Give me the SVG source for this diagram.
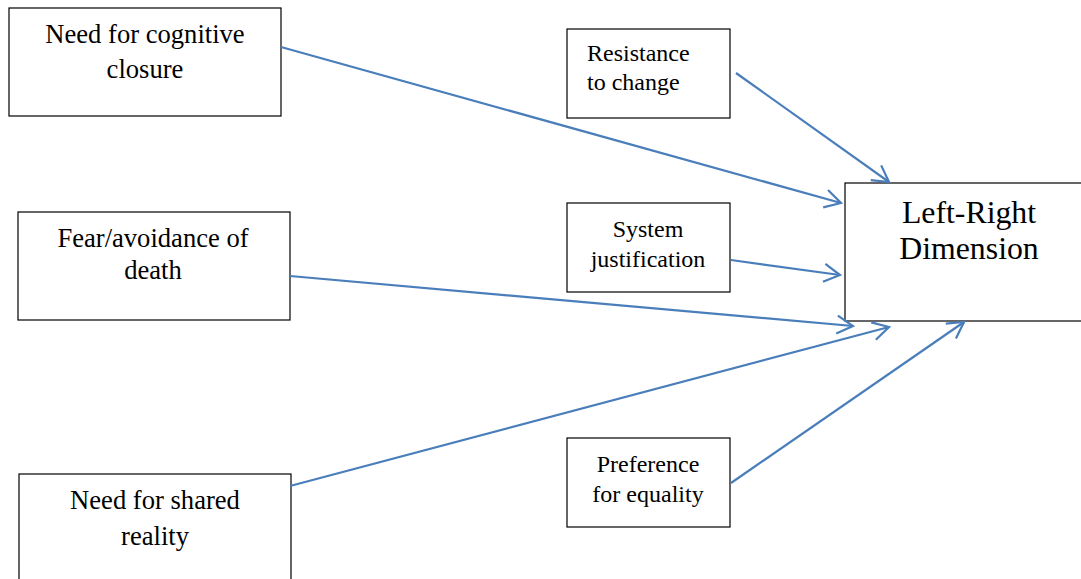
<svg xmlns="http://www.w3.org/2000/svg" width="1081" height="579" viewBox="0 0 1081 579">
<style>
.box{fill:#fff;stroke:#000;stroke-width:1.2}
.t{font-family:"Liberation Serif","Times New Roman",serif;fill:#000;text-anchor:middle}
.big{font-size:26.6px}
.small{font-size:24px}
.lr{font-size:31.8px}
.conn line{stroke:#4a7ebb;stroke-width:2.2;marker-end:url(#ah)}
</style>
<defs>
<marker id="ah" markerUnits="userSpaceOnUse" markerWidth="30" markerHeight="30" refX="18" refY="10" orient="auto" viewBox="0 0 30 20">
<path d="M2,1 L18,10 L2,19" fill="none" stroke="#4a7ebb" stroke-width="2.2"/>
</marker>
</defs>
<rect width="1081" height="579" fill="#fff"/>
<g id="n-ncc"><rect class="box" x="9" y="8" width="272" height="108"/>
<text class="t big" x="145" y="43">Need for cognitive</text><text class="t big" x="145" y="78">closure</text></g>
<g id="n-fear"><rect class="box" x="18" y="212" width="272" height="108"/>
<text class="t big" x="153" y="247">Fear/avoidance of</text><text class="t big" x="153" y="279">death</text></g>
<g id="n-nsr"><rect class="box" x="19" y="474" width="272" height="110"/>
<text class="t big" x="155" y="509">Need for shared</text><text class="t big" x="155" y="545">reality</text></g>
<g id="n-rtc"><rect class="box" x="567" y="29" width="163" height="89"/>
<text class="t small" x="587" y="61" style="text-anchor:start">Resistance</text><text class="t small" x="587" y="90" style="text-anchor:start">to change</text></g>
<g id="n-sj"><rect class="box" x="567" y="203" width="163" height="89"/>
<text class="t small" x="648" y="237">System</text><text class="t small" x="648" y="267">justification</text></g>
<g id="n-pfe"><rect class="box" x="567" y="438" width="163" height="89"/>
<text class="t small" x="648" y="472">Preference</text><text class="t small" x="648" y="502">for equality</text></g>
<g id="n-lr"><rect class="box" x="845" y="183" width="240" height="138"/>
<text class="t lr" x="969" y="223">Left-Right</text><text class="t lr" x="969" y="259">Dimension</text></g>
<g id="connectors" class="conn">
<line x1="281" y1="47" x2="841" y2="203"/>
<line x1="736" y1="73" x2="889" y2="182"/>
<line x1="731" y1="260" x2="840" y2="275"/>
<line x1="290" y1="276" x2="853" y2="326"/>
<line x1="290" y1="486" x2="889" y2="327"/>
<line x1="731" y1="483" x2="964" y2="322"/>
</g>
</svg>
